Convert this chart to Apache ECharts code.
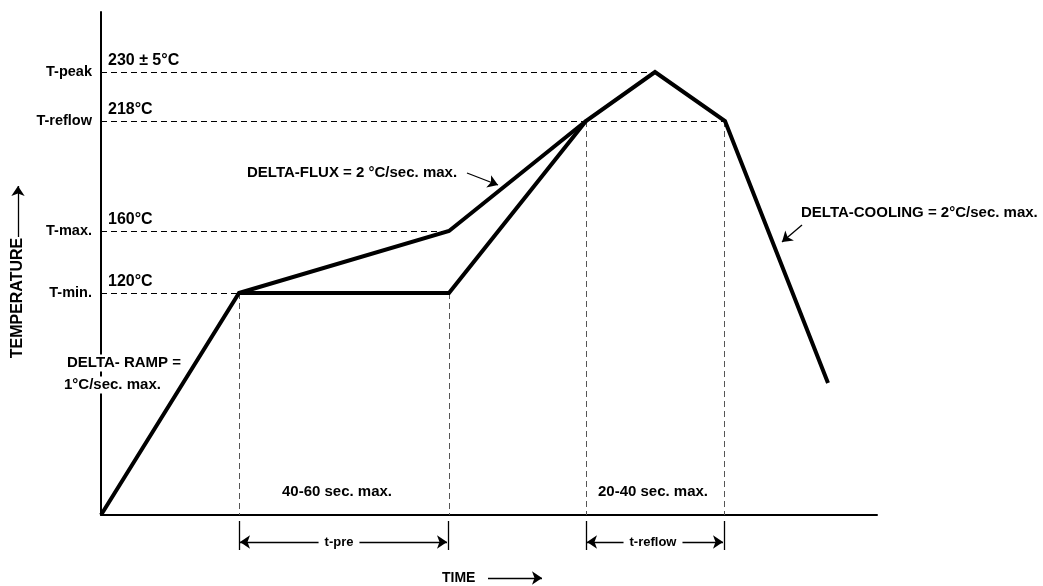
<!DOCTYPE html>
<html><head><meta charset="utf-8">
<script src="https://cdn.jsdelivr.net/npm/echarts@6/dist/echarts.min.js"></script>
<style>html,body{margin:0;padding:0;background:#fff}#c{width:1043px;height:586px}</style>
</head><body><div id="c"></div>
<script>
// Schematic units: x = time position, y = temperature level (schematic, not to scale)
const levelValues = [222, 284, 394, 443];
const levelNames = ['T-min.', 'T-max.', 'T-reflow', 'T-peak'];
const levelTemps = ['120°C', '160°C', '218°C', '230 ± 5°C'];
const tempLabelPos = [[7, 233], [7, 295], [7, 405], [7, 454]];
// main profile: start, T-min, end of soak, reflow, peak, reflow exit, cool end
const profile = [[0, 0], [138, 222], [348, 222], [485, 394], [554, 443], [624, 394], [727, 132]];
// alternate flux path
const fluxPath = [[138, 222], [348, 284], [485, 394]];
// dashed guides (horizontal ends at the curve point)
const hGuides = [[[0, 222], [138, 222]], [[0, 284], [348, 284]], [[0, 394], [624, 394]], [[0, 443], [554, 443]]];
const vGuides = [[[138, 222], [138, 0]], [[348, 222], [348, 0]], [[485, 394], [485, 0]], [[623, 394], [623, 0]]];
// dimension marks below the time axis
const dimTicks = [[[138, -6], [138, -35]], [[347, -6], [347, -35]], [[485, -6], [485, -35]], [[623, -6], [623, -35]]];
const dimArrows = [[[139, -27], [346, -27]], [[486, -27], [622, -27]]];
const dimLabels = [['t-pre', 238, -27], ['t-reflow', 552, -27]];
const spanLabels = [['40-60 sec. max.', 236, 23], ['20-40 sec. max.', 552, 23]];
const notes = [
  ['DELTA-FLUX = 2 °C/sec. max.', 146, 342],
  ['DELTA-COOLING = 2°C/sec. max.', 700, 302],
  ['DELTA- RAMP =', -34, 152],
  ['1°C/sec. max.', -37, 130]
];
const pointerArrows = [[[366, 342], [397, 330]], [[701, 290], [681, 273]], [[387, -63], [441, -63]], [[-83, 278], [-83, 329]]];
const axisTitles = [['TIME', 341, -63, 0, 14], ['TEMPERATURE', -83, 217, 90, 16]];

const FONT = "'Liberation Sans','Arial',sans-serif";
const txt = {fontFamily: FONT, fontWeight: 'bold', fontSize: 15, color: '#000'};
const noEmph = {emphasis: {disabled: true}, itemStyle: {opacity: 1}};

const chart = echarts.init(document.getElementById('c'), null, {renderer: 'canvas'});
chart.setOption({
  animation: false,
  backgroundColor: '#fff',
  grid: {left: 101, right: 166, top: 12, bottom: 71, containLabel: false},
  xAxis: {type: 'value', min: 0, max: 776, splitLine: {show: false},
    axisLine: {show: true, onZero: false, lineStyle: {color: '#000', width: 2}},
    axisTick: {show: false}, axisLabel: {show: false}},
  yAxis: {type: 'value', min: 0, max: 503, splitLine: {show: false},
    axisLine: {show: true, onZero: false, lineStyle: {color: '#000', width: 2}},
    axisTick: {show: false},
    axisLabel: {show: true, customValues: levelValues, margin: 9,
      formatter: v => levelNames[levelValues.indexOf(v)] || '', ...txt, fontSize: 14.5}},
  series: [
    {type: 'lines', coordinateSystem: 'cartesian2d', clip: false, z: 1, silent: true,
      lineStyle: {color: '#000', width: 1, type: [6, 4], opacity: 1}, data: hGuides.map(c => ({coords: c}))},
    {type: 'lines', coordinateSystem: 'cartesian2d', clip: false, z: 1, silent: true,
      lineStyle: {color: '#555', width: 1, type: [6, 4], opacity: 1}, data: vGuides.map(c => ({coords: c}))},
    {type: 'line', data: profile, symbol: 'none', z: 3, clip: false,
      lineStyle: {color: '#000', width: 4, join: 'miter'}},
    {type: 'line', data: fluxPath, symbol: 'none', z: 3, clip: false,
      lineStyle: {color: '#000', width: 4, join: 'miter'}},
    {type: 'lines', coordinateSystem: 'cartesian2d', clip: false, silent: true,
      lineStyle: {color: '#000', width: 1.3, opacity: 1}, data: dimTicks.map(c => ({coords: c}))},
    {type: 'lines', coordinateSystem: 'cartesian2d', clip: false, silent: true,
      symbol: ['arrow', 'arrow'], symbolSize: [10, 10],
      lineStyle: {color: '#000', width: 1.3, opacity: 1}, data: dimArrows.map(c => ({coords: c}))},
    {type: 'lines', coordinateSystem: 'cartesian2d', clip: false, silent: true,
      symbol: ['none', 'arrow'], symbolSize: 10,
      lineStyle: {color: '#000', width: 1.3, opacity: 1}, data: pointerArrows.map(c => ({coords: c}))},
    {type: 'scatter', clip: false, symbolSize: 0, z: 5, silent: true, ...noEmph,
      data: tempLabelPos.map((p, i) => ({value: p, label: {formatter: levelTemps[i]}})),
      label: {show: true, position: 'right', distance: 0, ...txt, fontSize: 16}},
    {type: 'scatter', clip: false, symbolSize: 0, z: 5, silent: true, ...noEmph,
      data: notes.map(n => ({value: [n[1], n[2]], label: {formatter: n[0]}})),
      label: {show: true, position: 'right', distance: 0, backgroundColor: '#fff', padding: [1, 2, 1, 0], ...txt}},
    {type: 'scatter', clip: false, symbolSize: 0, z: 5, silent: true, ...noEmph,
      data: spanLabels.map(n => ({value: [n[1], n[2]], label: {formatter: n[0]}})),
      label: {show: true, position: 'inside', ...txt}},
    {type: 'scatter', clip: false, symbolSize: 0, z: 5, silent: true, ...noEmph,
      data: dimLabels.map(n => ({value: [n[1], n[2]], label: {formatter: n[0]}})),
      label: {show: true, position: 'inside', backgroundColor: '#fff', padding: [1, 6], ...txt, fontSize: 13}},
    {type: 'scatter', clip: false, symbolSize: 0, z: 5, silent: true, ...noEmph,
      data: axisTitles.map(n => ({value: [n[1], n[2]], label: {formatter: n[0], rotate: n[3], fontSize: n[4],
        position: n[3] ? 'inside' : 'right', distance: 0}})),
      label: {show: true, ...txt}}
  ]
});
</script></body></html>
